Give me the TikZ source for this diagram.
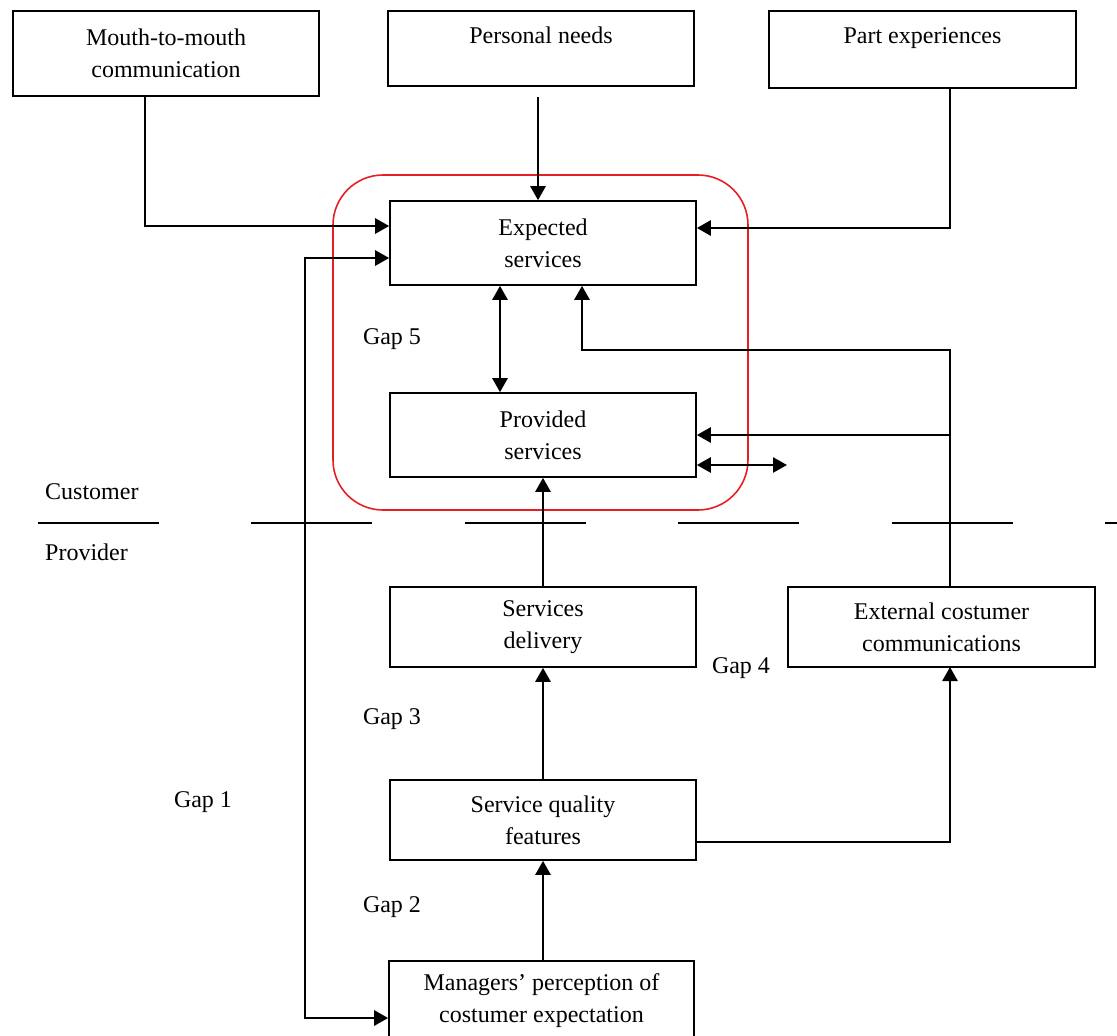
\documentclass[tikz,border=0pt]{standalone}
\usepackage{fontspec}
\setmainfont{Liberation Serif}
\usetikzlibrary{arrows.meta}
\definecolor{gapred}{RGB}{228,32,36}
\begin{document}
\begin{tikzpicture}[x=1pt,y=-1pt,
  every node/.style={font=\fontsize{24}{32}\selectfont},
  box/.style={draw, line width=1.6pt, align=center, inner sep=0pt, minimum width=306pt, minimum height=80pt},
  topbox/.style={box, text depth=27pt},
  conn/.style={line width=2.6pt},
  arr/.style={conn, -{Triangle[length=14pt,width=15pt]}},
  darr/.style={conn, {Triangle[length=14pt,width=15pt]}-{Triangle[length=14pt,width=15pt]}},
  lbl/.style={inner sep=0pt}]
\useasboundingbox (0,0) rectangle (1117,1036);

% boxes
\node[box, minimum height=85pt] (mm) at (166,53.5) {Mouth-to-mouth\\communication};
\node[topbox, minimum height=75pt] (pn) at (541,48.5) {Personal needs};
\node[topbox, minimum width=307pt, minimum height=77pt] (pe) at (922.5,49.5) {Part experiences};
\node[box, minimum height=84pt] (exp) at (543,243) {Expected\\services};
\node[box, minimum height=84pt] (prov) at (543,435) {Provided\\services};
\node[box] (sd) at (543,627) {Services\\delivery};
\node[box, minimum width=307pt] (ext) at (941.5,627) {External costumer\\communications};
\node[box] (sq) at (543,820) {Service quality\\features};
\node[box, minimum width=305pt] (mgr) at (541.5,1001) {Managers’ perception of\\costumer expectation};

% red boundary
\draw[gapred, line width=1.6pt, rounded corners=50pt] (333,175) rectangle (748,510);

% customer / provider separator
\draw[line width=1.6pt, dash pattern=on 121pt off 92.5pt] (37.5,523) -- (1117,523);
\node[lbl, anchor=west] (cust) at (45,492) {Customer};
\node[lbl, anchor=west] (prov-l) at (45,552) {Provider};

% gap labels
\node[lbl] (g5) at (392,339) {Gap 5};
\node[lbl] (g4) at (741,668) {Gap 4};
\node[lbl] (g3) at (392,719) {Gap 3};
\node[lbl] (g1) at (203,802) {Gap 1};
\node[lbl] (g2) at (392,907) {Gap 2};

% helper coordinates
\coordinate (mmx) at (145,0);
\coordinate (pnx) at (538,97);
\coordinate (pex) at (950,0);
\coordinate (c1) at (305,1018);
\coordinate (c2) at (582,350);
\coordinate (ex) at (950,587);
\coordinate (exb) at (950,667);
\coordinate (dend) at (787,465);

% connectors
\draw[arr] (mm.south -| mmx) |- ([yshift=17pt]exp.west);
\draw[arr] (pnx) -- (pnx |- exp.north);
\draw[arr] (pe.south -| pex) |- ([yshift=15pt]exp.east);
\draw[darr] ([yshift=-15pt]exp.west) -| (c1) -- ([yshift=-17pt]mgr.west);
\draw[darr] ([xshift=-43pt]exp.south) -- ([xshift=-43pt]prov.north);
\draw[arr] (ex) |- (c2) -- (c2 |- exp.south);
\draw[arr] (ex |- prov.east) -- (prov.east);
\draw[darr] (prov.east |- dend) -- (dend);
\draw[arr] (sd.north) -- (prov.south);
\draw[arr] (sq.north) -- (sd.south);
\draw[arr] (sq.south |- mgr.north) -- (sq.south);
\draw[arr] ([yshift=-22pt]sq.east) -| (exb);
\end{tikzpicture}
\end{document}
